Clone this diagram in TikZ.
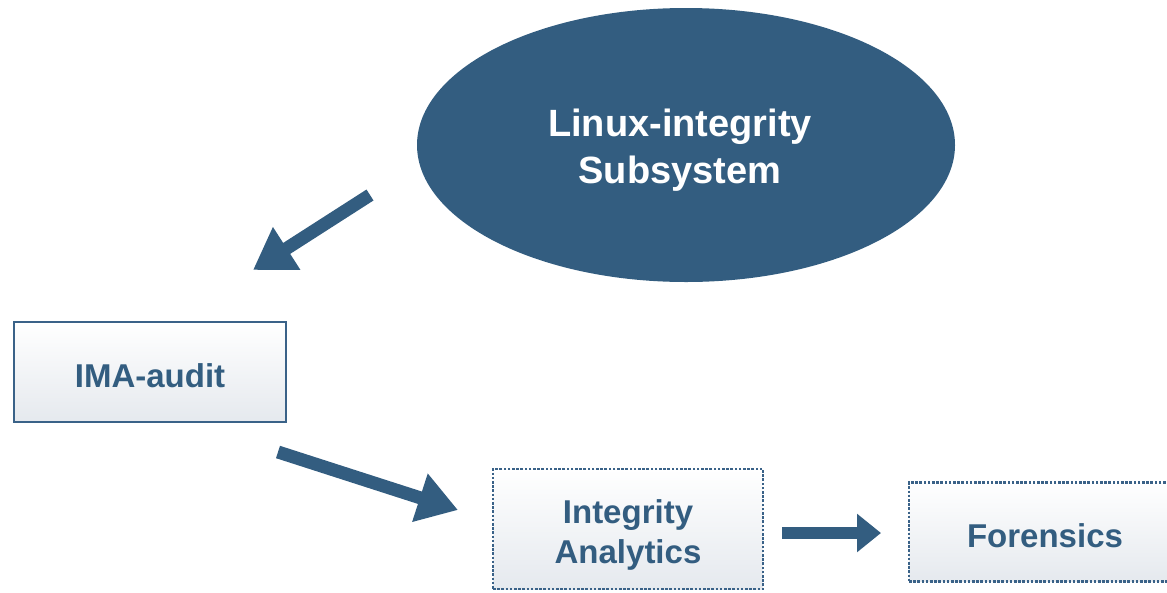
\documentclass[tikz,border=0pt]{standalone}
\usepackage{fontspec}
\setmainfont{Liberation Sans}
\usetikzlibrary{shapes.geometric,arrows.meta}
\definecolor{navy}{HTML}{335D80}
\definecolor{boxline}{HTML}{3A6288}
\definecolor{boxlow}{HTML}{E5E9EE}
\tikzset{
  flowbox/.style={draw=boxline, line width=2pt, top color=white, bottom color=boxlow,
    inner sep=0pt},
  dotbox/.style={flowbox, line width=2.6pt, dash pattern=on 2.6pt off 1.6pt},
  boxtext/.style={text=navy, font=\bfseries\fontsize{33}{40}\selectfont, align=center, inner sep=0pt},
  bigarrow/.style={draw=navy, line width=13pt,
    -{Triangle[width=48pt,length=40pt]}},
  smallarrow/.style={draw=navy, line width=12pt,
    -{Triangle[width=37pt,length=24pt]}}
}
\begin{document}
\begin{tikzpicture}[x=1pt,y=-1pt]
  \useasboundingbox (0,0) rectangle (1167,592);
  % central subsystem
  \node[ellipse, fill=navy, minimum width=538pt, minimum height=274pt, inner sep=0pt]
    (lis) at (686,145) {};
  \node[text=white, font=\bfseries\fontsize{38}{47}\selectfont, align=center, inner sep=0pt]
    (lisl) at (680,150) {Linux-integrity\\Subsystem};
  % components
  \node[flowbox, minimum width=272pt, minimum height=100pt] (ima) at (150,372) {};
  \node[boxtext] (imal) at (150,376) {IMA-audit};
  \node[dotbox, minimum width=270pt, minimum height=120pt] (ia) at (628,529) {};
  \node[boxtext] (ial) at (628,535) {Integrity\\Analytics};
  \node[dotbox, minimum width=272pt, minimum height=99pt] (for) at (1045,532) {};
  \node[boxtext] (forl) at (1045,536) {Forensics};
  % arrow end points
  \coordinate (a1s) at (370,195);
  \coordinate (a1e) at (253,270);
  \coordinate (a2s) at (278,452);
  \coordinate (a2e) at (458,510);
  \coordinate (a3s) at (782,533);
  \coordinate (a3e) at (881,533);
  \draw[bigarrow] (a1s) -- (a1e);
  \draw[bigarrow] (a2s) -- (a2e);
  \draw[smallarrow] (a3s) -- (a3e);
\end{tikzpicture}
\end{document}
